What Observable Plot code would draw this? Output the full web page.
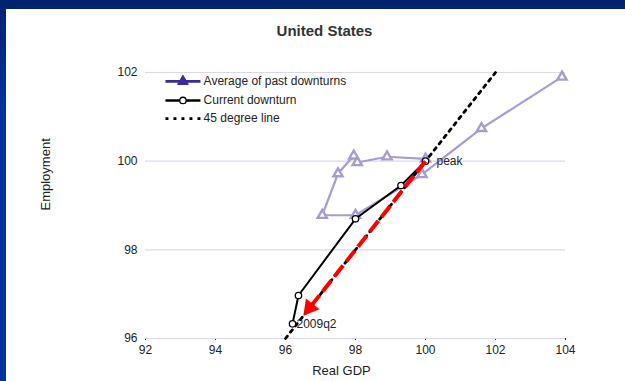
<!DOCTYPE html>
<html>
<head>
<meta charset="utf-8">
<script src="https://cdn.jsdelivr.net/npm/d3@7"></script>
<script src="https://cdn.jsdelivr.net/npm/@observablehq/plot@0.6"></script>
<style>
  html, body { margin: 0; padding: 0; background: #fff; }
  #wrap { position: relative; width: 625px; height: 381px; overflow: hidden; }
  #wrap svg { position: absolute; left: 0; top: 0; }
  .band-top { position: absolute; left: 0; top: 0; width: 625px; height: 9px; background: #00236e; }
  .band-left { position: absolute; left: 0; top: 0; width: 6px; height: 381px; background: linear-gradient(#00236e, #0035a0 30%, #0035a0); }
</style>
</head>
<body>
<div id="wrap"><div class="band-top"></div><div class="band-left"></div></div>
<script>
// Average path of past downturns (index: real GDP vs employment, peak = 100)
const avgGDP = [100.0, 98.9, 98.05, 97.95, 97.5, 97.05, 98.0, 99.9, 101.6, 103.9];
const avgEmp = [100.05, 100.1, 99.97, 100.12, 99.72, 98.78, 98.78, 99.7, 100.74, 101.9];

// Current downturn, from the peak to 2009q2
const curGDP = [100.0, 99.3, 98.0, 96.37, 96.2];
const curEmp = [100.0, 99.45, 98.7, 96.97, 96.33];
const curLabels = ["peak", "", "", "", "2009q2"];

// 45 degree reference line
const diag = [96, 102];

// Red arrow from the peak along the 45 degree line
const arrowFrom = 100;
const arrowTo = 96.5;

const xTicks = [92, 94, 96, 98, 100, 102, 104];
const yTicks = [96, 98, 100, 102];

const legendLabels = ["Average of past downturns", "Current downturn", "45 degree line"];

const avg = avgGDP.map((g, i) => ({gdp: g, emp: avgEmp[i]}));
const cur = curGDP.map((g, i) => ({gdp: g, emp: curEmp[i], label: curLabels[i]}));
const diagPts = diag.map(v => ({gdp: v, emp: v}));

const lavender = "#a89bd0";
const indigo = "#3a2a9c";

// legend rows placed in data units near the top-left corner
const lx1 = 92.57, lx2 = 93.57, lxm = 93.07, ltx = 93.66;
const ly = [101.8, 101.37, 100.96];

const headBack = 0.19;   // centroid of the arrow head, behind its tip
const arrowAngle = 180 + Math.atan2(35, 44.33) * 180 / Math.PI;

const plot = Plot.plot({
  width: 625,
  height: 381,
  marginLeft: 145,
  marginRight: 60,
  marginTop: 72,
  marginBottom: 43,
  style: {fontFamily: "'Liberation Sans', Arial, sans-serif", fontSize: "12px", color: "#222", background: "transparent"},
  x: {domain: [92, 104], ticks: xTicks, tickSize: 2, tickPadding: 5, tickFormat: d => String(d), label: null},
  y: {domain: [96, 102], ticks: yTicks, tickSize: 0, tickPadding: 8, tickFormat: d => String(d), label: null},
  marks: [
    Plot.ruleY(yTicks, {stroke: "#dcd7f0", strokeWidth: 1.2}),
    // average of past downturns
    Plot.line(avg, {x: "gdp", y: "emp", stroke: lavender, strokeWidth: 2.2}),
    Plot.dot(avg, {x: "gdp", y: "emp", symbol: "triangle", r: 3.4, stroke: lavender, strokeWidth: 2.4, fill: "white"}),
    // 45 degree line
    Plot.line(diagPts, {x: "gdp", y: "emp", stroke: "black", strokeWidth: 2.8, strokeDasharray: "3,5"}),
    // current downturn
    Plot.line(cur, {x: "gdp", y: "emp", stroke: "black", strokeWidth: 2}),
    Plot.dot(cur, {x: "gdp", y: "emp", r: 3.2, stroke: "black", strokeWidth: 1.3, fill: "white"}),
    Plot.text(cur.filter(d => d.label === "peak"), {x: "gdp", y: "emp", text: "label", textAnchor: "start", dx: 11, fontSize: 12, fill: "#222"}),
    Plot.text(cur.filter(d => d.label === "2009q2"), {x: "gdp", y: "emp", text: "label", textAnchor: "start", dx: 4, fontSize: 12, fill: "#222"}),
    // red arrow: dashed shaft plus a filled head
    Plot.link([{x1: arrowFrom, x2: arrowTo + 0.27}], {x1: "x1", y1: "x1", x2: "x2", y2: "x2", stroke: "red", strokeWidth: 4, strokeDasharray: "14,5"}),
    Plot.dot([arrowTo + headBack], {x: d => d, y: d => d, symbol: "triangle", r: 6.5, fill: "red", rotate: arrowAngle}),
    // legend
    Plot.link([ly[0]], {x1: lx1, x2: lx2, y1: d => d, y2: d => d, stroke: indigo, strokeWidth: 2.6}),
    Plot.link([ly[1]], {x1: lx1, x2: lx2, y1: d => d, y2: d => d, stroke: "black", strokeWidth: 2.4}),
    Plot.link([ly[2]], {x1: lx1, x2: lx2, y1: d => d, y2: d => d, stroke: "black", strokeWidth: 2.8, strokeDasharray: "3,5"}),
    Plot.dot([ly[0]], {x: lxm, y: d => d, symbol: "triangle", r: 4, fill: indigo, stroke: indigo, strokeWidth: 1}),
    Plot.dot([ly[1]], {x: lxm, y: d => d, r: 3.2, fill: "white", stroke: "black", strokeWidth: 1.3}),
    Plot.text(legendLabels, {x: ltx, y: (d, i) => ly[i], text: d => d, textAnchor: "start", fontSize: 12, fill: "#222"}),
    // titles
    Plot.text(["United States"], {frameAnchor: "top", dx: -31, dy: -47, fontSize: 15, fontWeight: "bold", fill: "#333"}),
    Plot.text(["Real GDP"], {frameAnchor: "bottom", dx: -14, dy: 36, fontSize: 13, fill: "#222"}),
    Plot.text(["Employment"], {frameAnchor: "left", dx: -100, dy: 5, rotate: -90, fontSize: 13, fill: "#222"})
  ]
});

document.getElementById("wrap").prepend(plot);
</script>
</body>
</html>
